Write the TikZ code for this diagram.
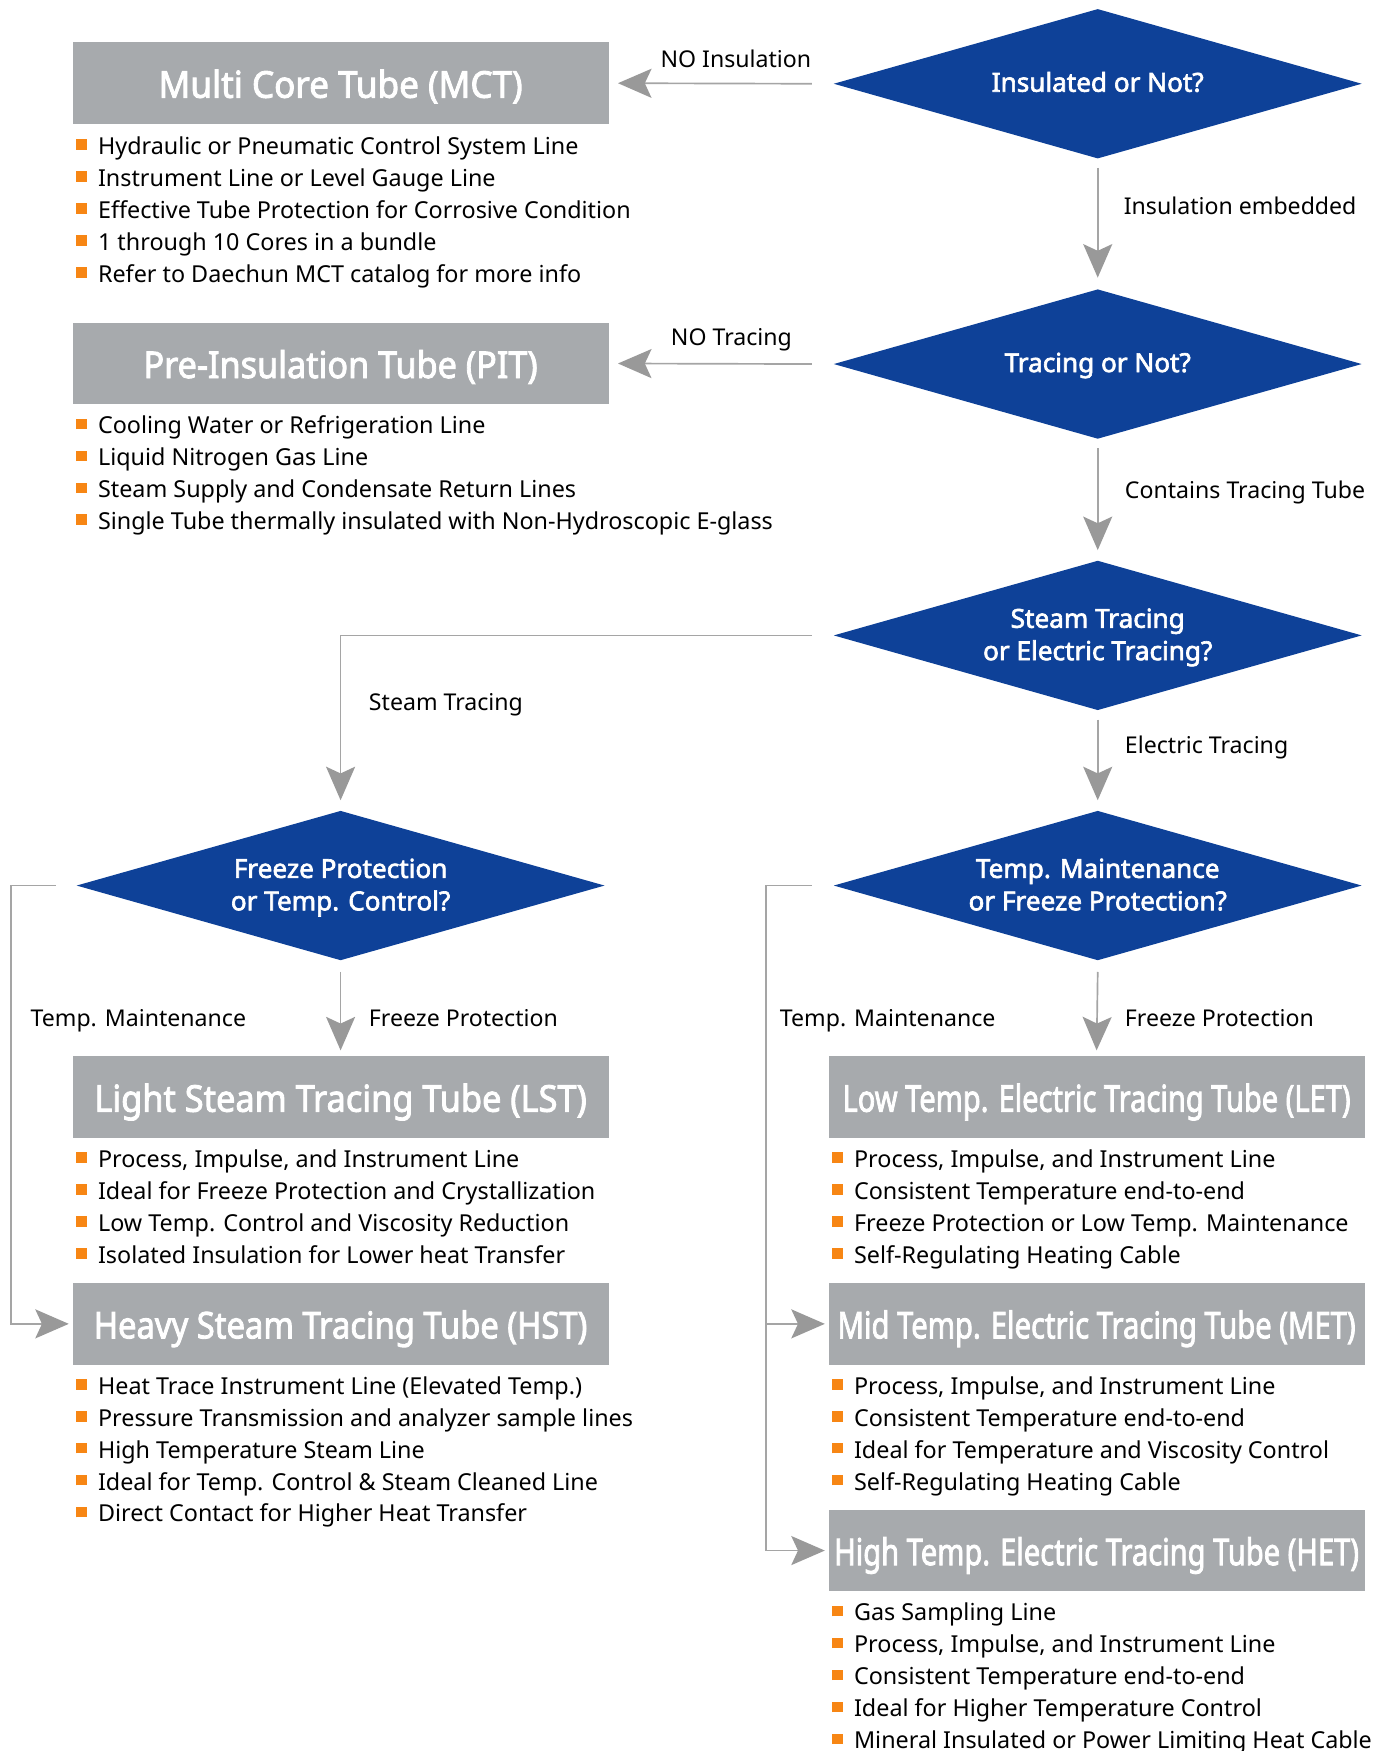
\documentclass[tikz,border=0pt]{standalone}
\usepackage{fontspec}
\setmainfont{Noto Sans}[BoldFont={Noto Sans}, BoldFeatures={FakeBold=2.5}]
\usetikzlibrary{shapes.geometric,arrows.meta,calc}
\definecolor{dblue}{RGB}{14,65,152}
\definecolor{boxgray}{RGB}{167,170,173}
\definecolor{linegray}{RGB}{165,165,165}
\definecolor{arrgray}{RGB}{153,153,153}
\definecolor{bulor}{RGB}{247,134,20}
\newcommand\bsq{{\color{bulor}\rule[0.2em]{0.45em}{0.45em}}\hspace{5pt}}
\newcommand\ttl[2]{\resizebox{#1}{\height}{#2}}
\begin{document}
\begin{tikzpicture}[x=0.5pt,y=-0.5pt,
  dec/.style={diamond, aspect=3.53, fill=dblue, minimum width=236.5pt, minimum height=67pt, inner sep=0pt},
  dtext/.style={text=white, inner sep=0pt, text height=0.714em, text depth=0pt, font=\fontsize{11.7}{14.3}\selectfont\bfseries},
  tbox/.style={rectangle, fill=boxgray, text=white, minimum width=240pt, minimum height=36.5pt, inner sep=0pt, text height=13pt, text depth=0pt, font=\fontsize{16.5}{18}\selectfont\bfseries},
  item/.style={anchor=base west, inner sep=0pt, font=\fontsize{10.45}{12}\selectfont},
  lbl/.style={inner sep=0pt, font=\fontsize{10.35}{12}\selectfont},
  arr/.style={draw=linegray, line width=0.75pt, -{Stealth[length=15pt, width=13pt, inset=3pt, color=arrgray]}}]
\useasboundingbox (0,0) rectangle (1245,1568);
\fill[white] (0,0) rectangle (1245,1568);
% decisions
\node[dec] (d1) at (983,75) {};
\node[dec] (d2) at (983,326) {};
\node[dec] (d3) at (983,569) {};
\node[dec] (d4) at (305,793) {};
\node[dec] (d5) at (983,793) {};
\node[dtext] (d1t) at (983,75) {Insulated or Not?};
\node[dtext] (d2t) at (983,326) {Tracing or Not?};
\node[dtext] (d3a) at (983,555) {Steam Tracing};
\node[dtext] (d3b) at (983,584) {or Electric Tracing?};
\node[dtext] (d4a) at (305,779) {Freeze Protection};
\node[dtext] (d4b) at (305,808) {or Temp. Control?};
\node[dtext] (d5a) at (983,779) {Temp. Maintenance};
\node[dtext] (d5b) at (983,808) {or Freeze Protection?};
% boxes
\node[tbox] (mct) at (305,74.5) {\ttl{163pt}{Multi Core Tube (MCT)}};
\node[tbox] (pit) at (305,325.5) {\ttl{176.5pt}{Pre-Insulation Tube (PIT)}};
\node[tbox] (lst) at (305,982.5) {\ttl{220.5pt}{Light Steam Tracing Tube (LST)}};
\node[tbox] (hst) at (305,1185.5) {\ttl{221pt}{Heavy Steam Tracing Tube (HST)}};
\node[tbox] (let) at (982,982.5) {\ttl{227.5pt}{Low Temp. Electric Tracing Tube (LET)}};
\node[tbox] (met) at (982,1185.5) {\ttl{232pt}{Mid Temp. Electric Tracing Tube (MET)}};
\node[tbox] (het) at (982,1388.5) {\ttl{235pt}{High Temp. Electric Tracing Tube (HET)}};
% items
\foreach \t [count=\i from 0] in {Hydraulic or Pneumatic Control System Line, Instrument Line or Level Gauge Line, Effective Tube Protection for Corrosive Condition, 1 through 10 Cores in a bundle, Refer to Daechun MCT catalog for more info}
  \node[item] (mct\i) at (68,138.5+28.6*\i) {\bsq\t};
\foreach \t [count=\i from 0] in {Cooling Water or Refrigeration Line, Liquid Nitrogen Gas Line, Steam Supply and Condensate Return Lines, Single Tube thermally insulated with Non-Hydroscopic E-glass}
  \node[item] (pit\i) at (68,388.5+28.6*\i) {\bsq\t};
\foreach \t [count=\i from 0] in {{Process, Impulse, and Instrument Line}, Ideal for Freeze Protection and Crystallization, Low Temp. Control and Viscosity Reduction, Isolated Insulation for Lower heat Transfer}
  \node[item] (lst\i) at (68,1045.5+28.6*\i) {\bsq\t};
\foreach \t [count=\i from 0] in {Heat Trace Instrument Line (Elevated Temp.), Pressure Transmission and analyzer sample lines, High Temperature Steam Line, Ideal for Temp. Control \& Steam Cleaned Line, Direct Contact for Higher Heat Transfer}
  \node[item] (hst\i) at (68,1248.5+28.6*\i) {\bsq\t};
\foreach \t [count=\i from 0] in {{Process, Impulse, and Instrument Line}, Consistent Temperature end-to-end, Freeze Protection or Low Temp. Maintenance, Self-Regulating Heating Cable}
  \node[item] (let\i) at (745,1045.5+28.6*\i) {\bsq\t};
\foreach \t [count=\i from 0] in {{Process, Impulse, and Instrument Line}, Consistent Temperature end-to-end, Ideal for Temperature and Viscosity Control, Self-Regulating Heating Cable}
  \node[item] (met\i) at (745,1248.5+28.6*\i) {\bsq\t};
\foreach \t [count=\i from 0] in {Gas Sampling Line, {Process, Impulse, and Instrument Line}, Consistent Temperature end-to-end, Ideal for Higher Temperature Control, Mineral Insulated or Power Limiting Heat Cable}
  \node[item] (het\i) at (745,1451.5+28.6*\i) {\bsq\t};
% connectors
\draw[arr] ($(d1.west)+(-19,0)$) -- ($(mct.east)+(8,0)$);
\draw[arr] ($(d1.south)+(0,8)$) -- ($(d2.north)+(0,-10)$);
\draw[arr] ($(d2.west)+(-19,0)$) -- ($(pit.east)+(8,0)$);
\draw[arr] ($(d2.south)+(0,8)$) -- ($(d3.north)+(0,-9)$);
\draw[arr] ($(d3.west)+(-19,0)$) -| ($(d4.north)+(0,-9)$);
\draw[arr] ($(d3.south)+(0,8)$) -- ($(d5.north)+(0,-9)$);
\draw[arr] ($(d4.south)+(0,10)$) -- ($(lst.north)+(0,-5)$);
\coordinate (j4) at ($(d4.west)+(-58,0)$);
\draw[arr] ($(d4.west)+(-18,0)$) -- (j4) |- ($(hst.west)+(-3,0)$);
\draw[arr] ($(d5.south)+(0,10)$) -- ($(let.north)+(0,-5)$);
\coordinate (j5) at ($(d5.west)+(-60,0)$);
\draw[arr] ($(d5.west)+(-19,0)$) -- (j5) |- ($(het.west)+(-3,0)$);
\draw[arr] (j5 |- met.west) -- ($(met.west)+(-3,0)$);
% labels
\node[lbl, anchor=base] (l1) at (659,60.5) {NO Insulation};
\node[lbl, anchor=base west] (l2) at (1006,192.5) {Insulation embedded};
\node[lbl, anchor=base] (l3) at (655,309.5) {NO Tracing};
\node[lbl, anchor=base west] (l4) at (1007,446.5) {Contains Tracing Tube};
\node[lbl, anchor=base west] (l5) at (330,636.5) {Steam Tracing};
\node[lbl, anchor=base west] (l6) at (1007,674.5) {Electric Tracing};
\node[lbl, anchor=base west] (l7) at (330,919.5) {Freeze Protection};
\node[lbl, anchor=base west] (l8) at (27,919.5) {Temp. Maintenance};
\node[lbl, anchor=base west] (l9) at (1007,919.5) {Freeze Protection};
\node[lbl, anchor=base west] (l10) at (698,919.5) {Temp. Maintenance};
\end{tikzpicture}
\end{document}
